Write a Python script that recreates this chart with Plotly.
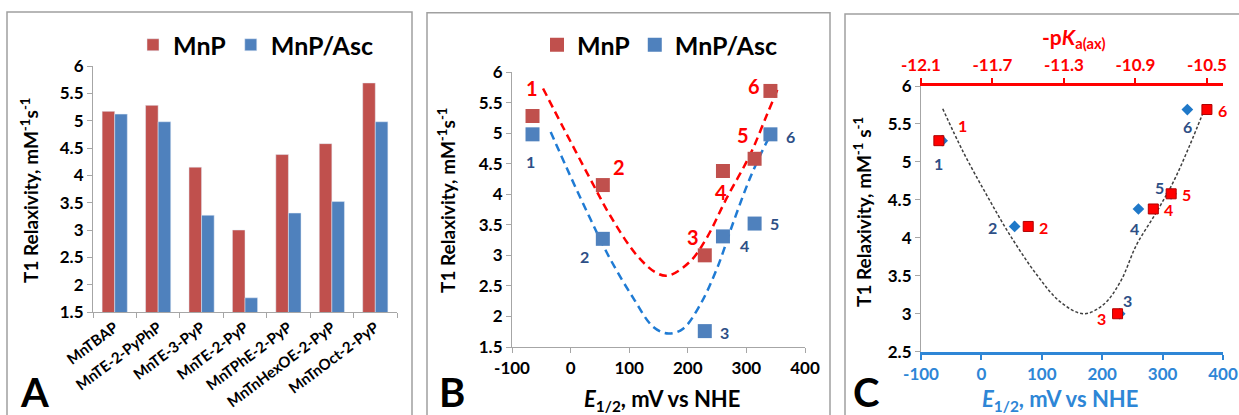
import plotly.graph_objects as go

# ---------------- data ----------------
compounds = ["MnTBAP", "MnTE-2-PyPhP", "MnTE-3-PyP", "MnTE-2-PyP",
             "MnTPhE-2-PyP", "MnTnHexOE-2-PyP", "MnTnOct-2-PyP"]
relax_mnp = [5.17, 5.28, 4.15, 3.00, 4.38, 4.58, 5.69]
relax_asc = [5.12, 4.98, 3.27, 1.76, 3.31, 3.52, 4.98]

# panels B and C use compounds 2..7 (numbered 1..6)
e_half = [-65, 55, 229, 260, 314, 341]
mnp_b = relax_mnp[1:]
asc_b = relax_asc[1:]
point_ids = ["1", "2", "3", "4", "5", "6"]
neg_pka = [-12.0, -11.5, -11.0, -10.8, -10.7, -10.5]

# dashed trend curves
red_curve_e = [-47, -12, 33, 67, 113, 147, 167, 204, 232, 266, 306, 335, 355]
red_curve_r = [5.73, 5.08, 4.26, 3.66, 3.00, 2.71, 2.67, 2.90, 3.28, 3.93, 4.64, 5.30, 5.76]
blue_curve_e = [-34, -1, 33, 67, 107, 141, 167, 192, 221, 250, 278, 306, 335, 347]
blue_curve_r = [5.02, 4.31, 3.61, 2.95, 2.30, 1.83, 1.72, 1.80, 2.19, 2.79, 3.55, 4.26, 4.86, 5.05]
fit_c_e = [-64, -30, 9, 47, 92, 130, 169, 202, 230, 257, 290, 318, 345, 370]
fit_c_r = [5.70, 5.13, 4.56, 4.04, 3.51, 3.16, 3.00, 3.12, 3.42, 3.91, 4.34, 4.74, 5.22, 5.71]

# tick labels
e_ticks = [-100, 0, 100, 200, 300, 400]
e_tick_text = ["-100", "0", "100", "200", "300", "400"]
pka_ticks = [-12.1, -11.7, -11.3, -10.9, -10.5]
pka_tick_text = ["-12.1", "-11.7", "-11.3", "-10.9", "-10.5"]

# ---------------- styling ----------------
W, H = 1239, 415
FONT = "Lato"
RED_BAR = "#C0504D"
BLUE_BAR = "#4F81BD"
RED = "#FF0000"
BLUE_AX = "#2E86D6"
LBL_BLUE = "#2E4F86"
GRAY = "#A6A6A6"

def fx(p):
    return p / W

def fy(p):
    return 1 - p / H

fig = go.Figure()

# ---- Panel A: grouped bars ----
fig.add_trace(go.Bar(x=compounds, y=relax_mnp, name="MnP", marker_color=RED_BAR,
                     xaxis="x", yaxis="y", legend="legend"))
fig.add_trace(go.Bar(x=compounds, y=relax_asc, name="MnP/Asc", marker_color=BLUE_BAR,
                     xaxis="x", yaxis="y", legend="legend"))

# ---- Panel B ----
fig.add_trace(go.Scatter(x=red_curve_e, y=red_curve_r, mode="lines", showlegend=False,
                         line=dict(color=RED, width=2.5, dash="8px,5px", shape="spline"),
                         xaxis="x2", yaxis="y2"))
fig.add_trace(go.Scatter(x=blue_curve_e, y=blue_curve_r, mode="lines", showlegend=False,
                         line=dict(color="#1F7BD4", width=2.5, dash="8px,5px", shape="spline"),
                         xaxis="x2", yaxis="y2"))
fig.add_trace(go.Scatter(x=e_half, y=mnp_b, mode="markers", name="MnP",
                         marker=dict(symbol="square", size=14, color=RED_BAR),
                         xaxis="x2", yaxis="y2", legend="legend2"))
fig.add_trace(go.Scatter(x=e_half, y=asc_b, mode="markers", name="MnP/Asc",
                         marker=dict(symbol="square", size=14, color=BLUE_BAR),
                         xaxis="x2", yaxis="y2", legend="legend2"))

# ---- Panel C ----
fig.add_trace(go.Scatter(x=fit_c_e, y=fit_c_r, mode="lines", showlegend=False,
                         line=dict(color="#404040", width=1.5, dash="3px,2px", shape="spline"),
                         xaxis="x3", yaxis="y3"))
fig.add_trace(go.Scatter(x=e_half, y=mnp_b, mode="markers", showlegend=False,
                         marker=dict(symbol="diamond", size=9, color="#1F78C8"),
                         xaxis="x3", yaxis="y3"))
fig.add_trace(go.Scatter(x=neg_pka, y=mnp_b, mode="markers", showlegend=False,
                         marker=dict(symbol="square", size=10, color=RED,
                                     line=dict(color="#B00000", width=1)),
                         xaxis="x4", yaxis="y3"))

tickf = dict(family=FONT, size=17, color="black", weight="bold")
axis_common = dict(showline=True, linecolor=GRAY, linewidth=1.2, ticks="outside",
                   tickcolor=GRAY, ticklen=5, showgrid=False, zeroline=False)

fig.update_layout(
    width=W, height=H, margin=dict(l=0, r=0, t=0, b=0, autoexpand=False),
    paper_bgcolor="white", plot_bgcolor="white",
    barmode="group", bargap=0.42, bargroupgap=0.0,
    xaxis=dict(domain=[fx(93), fx(397)], anchor="y", tickson="boundaries",
               tickangle=-37, tickfont=dict(family=FONT, size=15, color="black", weight="bold"),
               **axis_common),
    yaxis=dict(domain=[fy(312), fy(66)], anchor="x", range=[1.5, 6], dtick=0.5,
               tickfont=tickf, **axis_common),
    xaxis2=dict(domain=[fx(512), fx(805)], anchor="y2", range=[-100, 400],
                tickvals=e_ticks, ticktext=e_tick_text,
                tickfont=tickf, **axis_common),
    yaxis2=dict(domain=[fy(347), fy(72)], anchor="x2", range=[1.5, 6], dtick=0.5,
                tickfont=tickf, **axis_common),
    xaxis3=dict(domain=[fx(921), fx(1223)], anchor="y3", range=[-100, 400],
                tickvals=e_ticks, ticktext=e_tick_text,
                showline=True, linecolor=BLUE_AX, linewidth=3, ticks="outside",
                tickcolor=BLUE_AX, ticklen=5, tickwidth=2, showgrid=False, zeroline=False,
                tickfont=dict(family=FONT, size=17, color=BLUE_AX, weight="bold")),
    xaxis4=dict(overlaying="x3", anchor="y3", side="top", range=[-12.1, -10.41],
                tickvals=pka_ticks, ticktext=pka_tick_text,
                showline=True, linecolor=RED, linewidth=3, ticks="outside",
                tickcolor=RED, ticklen=5, tickwidth=2, showgrid=False, zeroline=False,
                tickfont=dict(family=FONT, size=17, color=RED, weight="bold")),
    yaxis3=dict(domain=[fy(351.7), fy(86)], anchor="x3", range=[2.5, 6], dtick=0.5,
                tickfont=tickf, **axis_common),
    legend=dict(orientation="h", x=fx(133), y=fy(45), xanchor="left", yanchor="middle",
                font=dict(family=FONT, size=25, color="black", weight="bold"),
                bgcolor="rgba(0,0,0,0)", itemwidth=30),
    legend2=dict(orientation="h", x=fx(537), y=fy(45), xanchor="left", yanchor="middle",
                 font=dict(family=FONT, size=25, color="black", weight="bold"),
                 bgcolor="rgba(0,0,0,0)", itemwidth=30),
    showlegend=True,
)

# panel frames
for x0, y0, x1 in [(7, 12, 412), (427, 12.7, 830), (845, 14, 1245)]:
    fig.add_shape(type="rect", xref="paper", yref="paper",
                  x0=fx(x0), x1=fx(x1), y0=fy(425), y1=fy(y0),
                  line=dict(color="#A0A0A0", width=1.5), fillcolor="rgba(0,0,0,0)")

ann = []

def txt(text, x, y, size, color="black", angle=0, xanchor="center", yanchor="middle"):
    ann.append(dict(text=text, x=x, y=y, xref="paper", yref="paper", showarrow=False,
                    textangle=angle, xanchor=xanchor, yanchor=yanchor,
                    font=dict(family=FONT, size=size, color=color, weight="bold")))

ytitle = "T1 Relaxivity, mM<sup>-1</sup>s<sup>-1</sup>"
txt(ytitle, fx(30), fy(190), 19, angle=-90)
txt(ytitle, fx(446), fy(200), 19, angle=-90)
txt("T1 Relaxivity, mM<sup>-1</sup> s<sup>-1</sup>", fx(862), fy(212), 19, angle=-90)
txt("<i>E</i><sub>1/2</sub>, mV vs NHE", fx(662), fy(400), 22)
txt("<i>E</i><sub>1/2</sub>, mV vs NHE", fx(1060), fy(400), 22, color=BLUE_AX)
txt("-p<i>K</i><sub>a(ax)</sub>", fx(1074), fy(38), 21, color=RED)
txt("A", fx(34), fy(392), 40)
txt("B", fx(452), fy(392), 40)
txt("C", fx(866), fy(392), 40)

# point labels (offsets in px relative to each marker)
def plabel(xa, ya, xv, yv, text, dx, dy, size, color):
    ann.append(dict(text=text, x=xv, y=yv, xref=xa, yref=ya, showarrow=False,
                    xshift=dx, yshift=dy, xanchor="center", yanchor="middle",
                    font=dict(family=FONT, size=size, color=color, weight="bold")))

b_red_off = [(-1, 28), (16, 18), (-12, 18), (-2, -21), (-12, 24), (-16, 5)]
b_blue_off = [(-2, -27), (-18, -18), (20, -1), (22, -9), (20, 0), (20, -2)]
c_red_off = [(24, 15), (15, -1), (-16, -5), (15, -1), (15, -1), (16, -1)]
c_blue_off = [(-4, -23), (-22, -1), (8, 13), (-4, -20), (-12, 6), (0, -17)]
for i, pid in enumerate(point_ids):
    plabel("x2", "y2", e_half[i], mnp_b[i], pid, *b_red_off[i], 20, RED)
    plabel("x2", "y2", e_half[i], asc_b[i], pid, *b_blue_off[i], 16, LBL_BLUE)
    plabel("x4", "y3", neg_pka[i], mnp_b[i], pid, *c_red_off[i], 16, RED)
    plabel("x3", "y3", e_half[i], mnp_b[i], pid, *c_blue_off[i], 16, LBL_BLUE)

fig.update_layout(annotations=ann)
fig.write_html("out.html", config={"displayModeBar": False},
               post_script="document.body.style.margin='0';document.body.style.overflow='hidden';")
